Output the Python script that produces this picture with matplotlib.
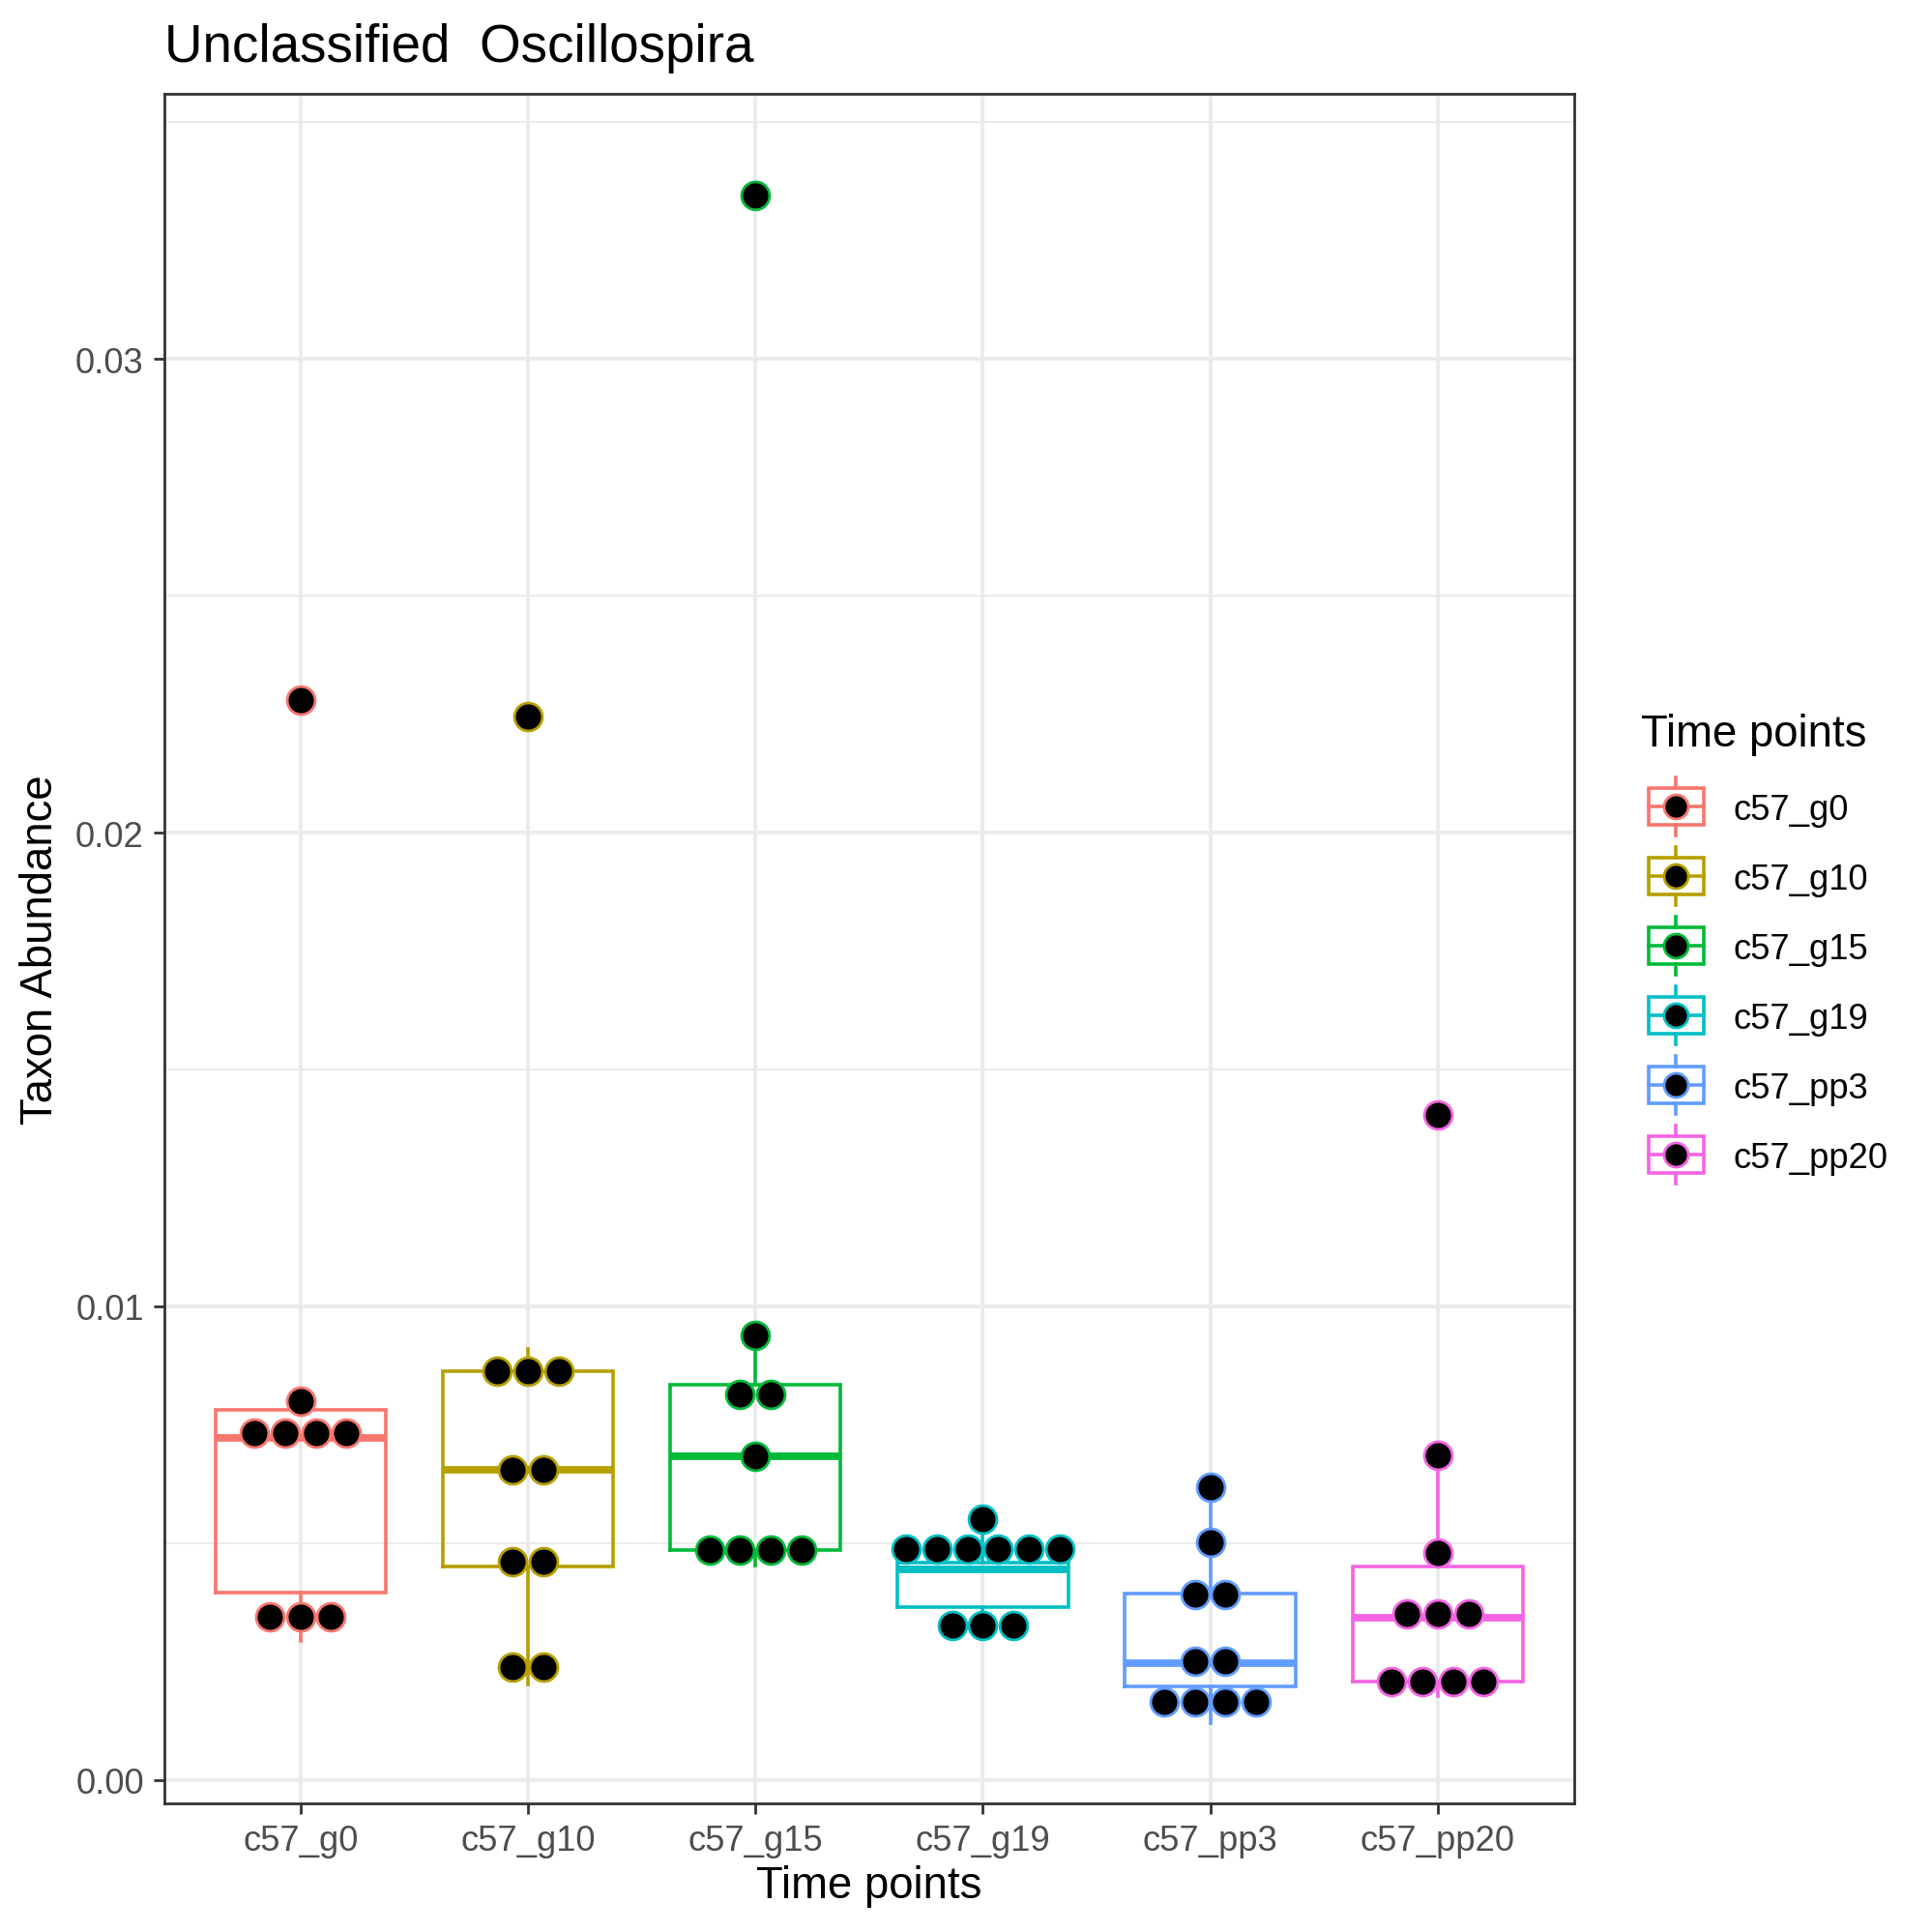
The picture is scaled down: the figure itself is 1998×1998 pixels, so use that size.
import matplotlib
matplotlib.use("Agg")
import matplotlib.pyplot as plt
from matplotlib.patches import Rectangle
import numpy as np

plt.rcParams['font.family'] = ['Liberation Sans', 'DejaVu Sans']

# ---- data ----
groups = ["c57_g0", "c57_g10", "c57_g15", "c57_g19", "c57_pp3", "c57_pp20"]
colors = ["#F8766D", "#B79F00", "#00BA38", "#00BFC4", "#619CFF", "#F564E3"]

# dotplot bin centres (one entry per dot)
dots_g0 = [0.0228, 0.0080, 0.00732, 0.00732, 0.00732, 0.00732, 0.00344, 0.00344, 0.00344]
dots_g10 = [0.02245, 0.00862, 0.00862, 0.00862, 0.00655, 0.00655, 0.00461, 0.00461, 0.00238, 0.00238]
dots_g15 = [0.03345, 0.00939, 0.00813, 0.00813, 0.00683, 0.00485, 0.00485, 0.00485, 0.00485]
dots_g19 = [0.00551, 0.00487, 0.00487, 0.00487, 0.00487, 0.00487, 0.00487, 0.00327, 0.00327, 0.00327]
dots_pp3 = [0.00619, 0.00502, 0.00391, 0.00391, 0.00250, 0.00250, 0.00165, 0.00165, 0.00165, 0.00165]
dots_pp20 = [0.01405, 0.00685, 0.00479, 0.00351, 0.00351, 0.00351, 0.00208, 0.00208, 0.00208, 0.00208]
dots = [dots_g0, dots_g10, dots_g15, dots_g19, dots_pp3, dots_pp20]

# box statistics
whislo = [0.00293, 0.00201, 0.00453, 0.00330, 0.00119, 0.00177]
q1 = [0.00395, 0.00451, 0.00485, 0.00364, 0.00197, 0.00208]
med = [0.00722, 0.00655, 0.00683, 0.00444, 0.00247, 0.00342]
q3 = [0.00781, 0.00864, 0.00834, 0.00459, 0.00393, 0.00451]
whishi = [0.00810, 0.00909, 0.00939, 0.00551, 0.00619, 0.00685]

W = 1999.0
fig = plt.figure(figsize=(W / 200, W / 200), dpi=200)

# panel in pixel terms
left, right, top, bottom = 169.6, 1628.0, 98.0, 1866.0
ax = fig.add_axes([left / W, 1 - bottom / W, (right - left) / W, (bottom - top) / W])

positions = np.arange(1, len(groups) + 1)

stats = []
for i, g in enumerate(groups):
    stats.append(dict(whislo=whislo[i], q1=q1[i], med=med[i], q3=q3[i],
                      whishi=whishi[i], label=g))

bp = ax.bxp(stats, positions=positions, widths=0.75, showfliers=False,
            showcaps=False, manage_ticks=False)
for i, c in enumerate(colors):
    bp['boxes'][i].set(color=c, linewidth=1.3, solid_joinstyle='miter', zorder=2)
    bp['whiskers'][2 * i].set(color=c, linewidth=1.3, zorder=2)
    bp['whiskers'][2 * i + 1].set(color=c, linewidth=1.3, zorder=2)
    bp['medians'][i].set(color=c, linewidth=2.8, solid_capstyle='butt', zorder=2)

# centred dot stacks
dot_w = 0.1348
for i, vals in enumerate(dots):
    uniq = []
    for v in vals:
        if v not in uniq:
            uniq.append(v)
    for v in uniq:
        n = vals.count(v)
        offs = (np.arange(n) - (n - 1) / 2) * dot_w
        ax.scatter(positions[i] + offs, [v] * n, s=108, c='black',
                   edgecolors=colors[i], linewidths=1.0, zorder=3)

ax.set_xlim(0.4, 6.6)
ax.set_ylim(-0.000496, 0.0356)
ax.set_xticks(positions)
ax.set_xticklabels(groups)
ax.set_yticks([0.0, 0.01, 0.02, 0.03])
ax.set_yticklabels(["0.00", "0.01", "0.02", "0.03"])
ax.set_yticks([0.005, 0.015, 0.025, 0.035], minor=True)

ax.grid(which='major', color='#EBEBEB', linewidth=1.4)
ax.grid(which='minor', axis='y', color='#EBEBEB', linewidth=0.7)
ax.set_axisbelow(True)

for sp in ax.spines.values():
    sp.set_color('#333333')
    sp.set_linewidth(1.0)

ax.tick_params(which='major', length=4, width=1.0, color='#333333',
               labelsize=13.1, labelcolor='#4D4D4D', pad=3.5)
ax.tick_params(which='minor', length=0)

# titles
fig.text(170 / W, 1 - 64 / W, "Unclassified  Oscillospira", fontsize=19.7,
         ha='left', va='baseline')
fig.text((left + right) / 2 / W, 1 - 1951 / W, "Time points", fontsize=16.4,
         ha='center', va='center')
fig.text(42 / W, 1 - 982 / W, "Taxon Abundance", fontsize=16.4,
         ha='center', va='center', rotation=90)

# legend drawn by hand, ggplot style keys
leg = fig.add_axes([0, 0, 1, 1], zorder=5)
leg.set_xlim(0, W)
leg.set_ylim(W, 0)
leg.axis('off')
leg.text(1697, 772, "Time points", fontsize=16.4, ha='left', va='baseline')
kx0, kx1 = 1705, 1762
kxc = (kx0 + kx1) / 2
for i, (g, c) in enumerate(zip(groups, colors)):
    cy = 835 + i * 72.0
    leg.add_patch(Rectangle((kx0, cy - 19), kx1 - kx0, 38, fill=False,
                            edgecolor=c, linewidth=1.3, joinstyle='miter'))
    leg.plot([kxc, kxc], [cy - 30, cy - 19], color=c, linewidth=1.3)
    leg.plot([kxc, kxc], [cy + 19, cy + 30], color=c, linewidth=1.3)
    leg.plot([kx0, kx1], [cy, cy], color=c, linewidth=1.3)
    leg.plot([kxc], [cy], 'o', markersize=9, markerfacecolor='black',
             markeredgecolor=c, markeredgewidth=1.0)
    leg.text(1793, cy + 13, g, fontsize=13.1, ha='left', va='baseline')

fig.savefig("out.png", dpi=200, facecolor='white')
